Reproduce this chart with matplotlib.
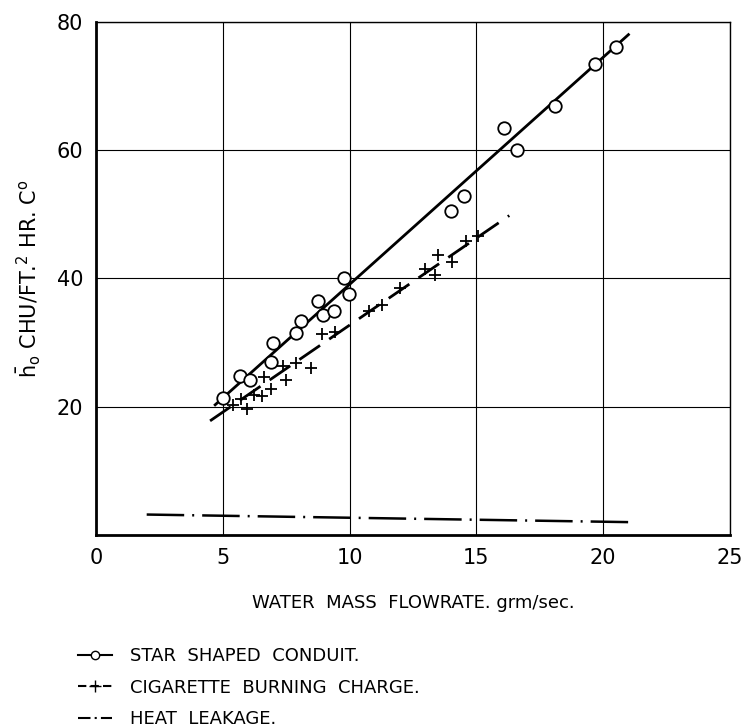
import matplotlib
matplotlib.use("Agg")
import matplotlib.pyplot as plt
from matplotlib.lines import Line2D

# star shaped conduit (open circles)
star_x = [5.0, 5.67, 6.07, 6.89, 6.98, 7.9, 8.07, 8.75, 8.95, 9.37, 9.8, 9.97,
          14.0, 14.5, 16.1, 16.6, 18.1, 19.7, 20.5]
star_y = [21.4, 24.8, 24.1, 27.0, 29.9, 31.5, 33.4, 36.5, 34.3, 34.9, 40.1, 37.5,
          50.5, 52.8, 63.5, 60.0, 66.9, 73.5, 76.1]
star_fit_x = [4.7, 21.0]
star_fit_y = [20.3, 78.0]

# cigarette burning charge (plus markers)
cig_x = [5.41, 5.71, 5.97, 6.24, 6.56, 6.63, 6.89, 7.38, 7.48, 7.87, 8.5, 8.9, 9.44,
         10.77, 11.27, 11.99, 12.97, 13.36, 13.5, 14.04, 14.6, 15.06]
cig_y = [20.3, 21.2, 19.6, 21.9, 21.7, 24.7, 22.8, 26.3, 24.1, 26.8, 26.0, 31.4, 31.6,
         34.9, 35.8, 38.5, 41.5, 40.5, 43.6, 42.5, 45.9, 46.6]
cig_fit_x = [4.5, 16.3]
cig_fit_y = [17.8, 49.8]

# heat leakage
leak_x = [2.0, 21.3]
leak_y = [3.2, 2.0]

x_ticks = [0, 5, 10, 15, 20, 25]
y_ticks = [20, 40, 60, 80]

plt.rcParams['font.family'] = 'DejaVu Sans'

fig = plt.figure(figsize=(7.44, 7.27), dpi=100)
ax = fig.add_axes([0.129, 0.264, 0.852, 0.706])

ax.plot(star_fit_x, star_fit_y, color='black', lw=2)
ax.plot(star_x, star_y, 'o', mfc='white', mec='black', ms=9, mew=1.3)

ax.plot(cig_fit_x, cig_fit_y, color='black', lw=2, dashes=(9, 4))
ax.plot(cig_x, cig_y, '+', color='black', ms=9, mew=1.3)

ax.plot(leak_x, leak_y, color='black', lw=1.8, dashes=(15, 3.2, 0.8, 3.2))

ax.set_xlim(0, 25)
ax.set_ylim(0, 80)
ax.set_xticks(x_ticks)
ax.set_yticks(y_ticks)
ax.tick_params(length=0, labelsize=15, pad=9)
ax.grid(True, color='black', lw=0.8)
for s in ['left', 'bottom']:
    ax.spines[s].set_linewidth(2)
for s in ['right', 'top']:
    ax.spines[s].set_linewidth(1)

ax.set_xlabel('WATER  MASS  FLOWRATE. grm/sec.', fontsize=13, labelpad=19)
ax.set_ylabel(r'$\bar{\mathrm{h}}_\mathrm{o}$ CHU/FT.$^2$ HR. C$^\mathrm{o}$',
              fontsize=15, labelpad=10)

handles = [
    Line2D([], [], color='black', lw=1.5, marker='o', mfc='white', mec='black', ms=6),
    Line2D([], [], color='black', lw=1.5, marker='+', ms=9, dashes=(4, 2)),
    Line2D([], [], color='black', lw=1.5, dashes=(6, 2, 1, 2)),
]
labels = ['STAR  SHAPED  CONDUIT.', 'CIGARETTE  BURNING  CHARGE.', 'HEAT  LEAKAGE.']
fig.legend(handles, labels, loc='upper left', bbox_to_anchor=(0.095, 0.12),
           frameon=False, fontsize=13, handlelength=1.9, labelspacing=0.75,
           borderaxespad=0, handletextpad=1.0)

fig.savefig('out.png', dpi=100)
